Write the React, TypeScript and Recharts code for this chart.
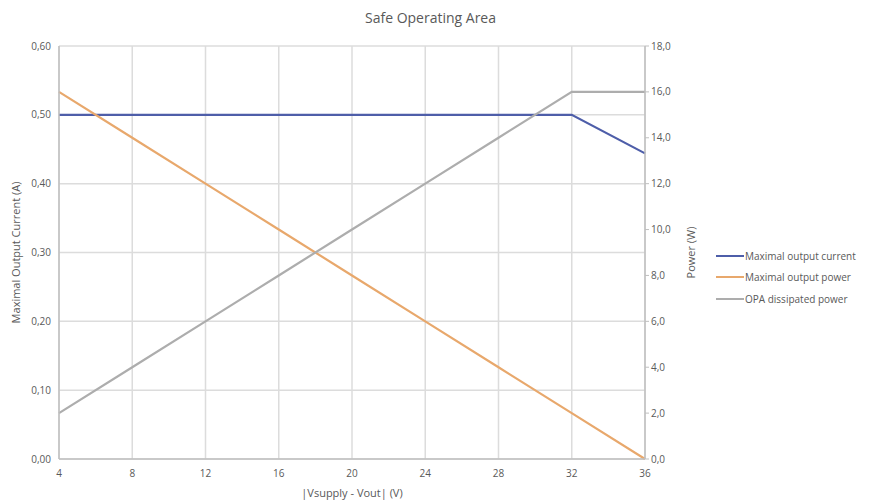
import { LineChart, Line, XAxis, YAxis, CartesianGrid } from "recharts";

const voltages = [4, 8, 12, 16, 20, 24, 28, 32, 36];
const maxCurrent = [0.5, 0.5, 0.5, 0.5, 0.5, 0.5, 0.5, 0.5, 0.444];
const maxPower = [16, 14, 12, 10, 8, 6, 4, 2, 0];
const opaPower = [2, 4, 6, 8, 10, 12, 14, 16, 16];

const xTicks = [4, 8, 12, 16, 20, 24, 28, 32, 36];
const currentTicks = [0, 0.1, 0.2, 0.3, 0.4, 0.5, 0.6];
const powerTicks = [0, 2, 4, 6, 8, 10, 12, 14, 16, 18];

const series = [
  { key: "current", name: "Maximal output current", color: "#4e5ea9", axis: "left" },
  { key: "power", name: "Maximal output power", color: "#e8a86c", axis: "right" },
  { key: "opa", name: "OPA dissipated power", color: "#adadad", axis: "right" },
];

const data = voltages.map((v, i) => ({
  v,
  current: maxCurrent[i],
  power: maxPower[i],
  opa: opaPower[i],
}));

const font = "'Open Sans', 'Liberation Sans', sans-serif";
const textColor = "#595959";

export default function App() {
  return (
    <div
      style={{
        position: "absolute",
        left: 0,
        top: 0,
        width: 871,
        height: 501,
        background: "#fff",
        fontFamily: font,
      }}
    >
      <div
        style={{
          position: "absolute",
          top: 8,
          left: 0,
          width: 861,
          textAlign: "center",
          fontSize: 14,
          color: textColor,
        }}
      >
        Safe Operating Area
      </div>
      <LineChart
        width={871}
        height={501}
        data={data}
        margin={{ top: 46, right: 176, bottom: 0, left: 0 }}
      >
        <CartesianGrid yAxisId="left" stroke="#dcdcdc" strokeWidth={1.5} />
        <XAxis
          dataKey="v"
          type="number"
          domain={[4, 36]}
          ticks={xTicks}
          height={42}
          tickLine={false}
          axisLine={{ stroke: "#bfbfbf", strokeWidth: 1.5 }}
          tick={{ fontSize: 10, fill: textColor, fontFamily: font, dy: 3 }}
          label={{
            value: "|Vsupply - Vout|  (V)",
            position: "insideBottom",
            offset: 4,
            fontSize: 11,
            fill: textColor,
            fontFamily: font,
          }}
        />
        <YAxis
          yAxisId="left"
          domain={[0, 0.6]}
          ticks={currentTicks}
          width={59}
          tickLine={false}
          axisLine={{ stroke: "#bfbfbf", strokeWidth: 1.5 }}
          tickFormatter={(t: number) => t.toFixed(2).replace(".", ",")}
          tick={{ fontSize: 10, fill: textColor, fontFamily: font }}
          label={{
            value: "Maximal Output Current (A)",
            angle: -90,
            position: "insideLeft",
            offset: 16,
            style: { textAnchor: "middle" },
            fontSize: 11,
            fill: textColor,
            fontFamily: font,
          }}
        />
        <YAxis
          yAxisId="right"
          orientation="right"
          domain={[0, 18]}
          ticks={powerTicks}
          width={50}
          tickSize={4}
          tickLine={{ stroke: "#bfbfbf" }}
          axisLine={{ stroke: "#bfbfbf", strokeWidth: 1.5 }}
          tickFormatter={(t: number) => t.toFixed(1).replace(".", ",")}
          tick={{ fontSize: 10, fill: textColor, fontFamily: font }}
          label={{
            value: "Power (W)",
            angle: -90,
            position: "insideRight",
            offset: 4,
            style: { textAnchor: "middle" },
            fontSize: 11,
            fill: textColor,
            fontFamily: font,
          }}
        />
        {series.map((s) => (
          <Line
            key={s.key}
            yAxisId={s.axis}
            dataKey={s.key}
            name={s.name}
            stroke={s.color}
            strokeWidth={2.2}
            dot={false}
            type="linear"
            isAnimationActive={false}
          />
        ))}
      </LineChart>
      <div style={{ position: "absolute", left: 716, top: 245 }}>
        {series.map((s) => (
          <div
            key={s.key}
            style={{
              display: "flex",
              alignItems: "center",
              height: 21.5,
              fontSize: 10,
              color: textColor,
            }}
          >
            <span
              style={{
                display: "inline-block",
                width: 28,
                height: 2,
                background: s.color,
                marginRight: 1,
              }}
            />
            {s.name}
          </div>
        ))}
      </div>
    </div>
  );
}
